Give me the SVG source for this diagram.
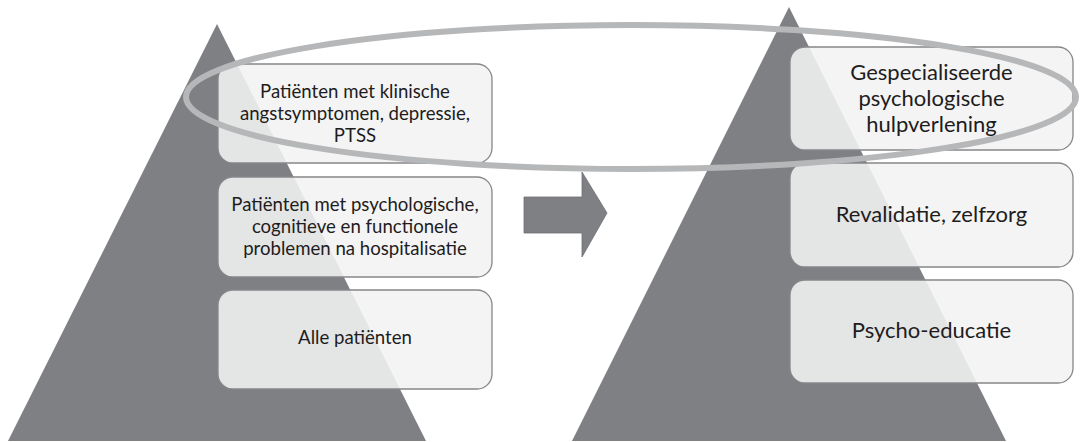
<svg xmlns="http://www.w3.org/2000/svg" width="1082" height="442" viewBox="0 0 1082 442">
  <style>
    .tri { fill: #7f8083; }
    .box { fill: #f2f3f2; fill-opacity: 0.88; stroke: #86878a; stroke-width: 1.3; }
    .t { font-family: Lato, "Open Sans", "Liberation Sans", sans-serif; fill: #1e1c1d; text-anchor: middle; }
    .s { font-size: 18.6px; }
    .l { font-size: 22px; }
  </style>
  <rect width="1082" height="442" fill="#ffffff"/>
  <g id="pyramids">
    <polygon class="tri" points="217,24 8,441 426,441"/>
    <polygon class="tri" points="789,7 572,441 1006,441"/>
  </g>
  <g id="left-top">
    <rect class="box" x="218" y="64" width="274" height="99" rx="15"/>
    <text class="t s" x="355" y="98">Patiënten met klinische</text>
    <text class="t s" x="355" y="120">angstsymptomen, depressie,</text>
    <text class="t s" x="355" y="142">PTSS</text>
  </g>
  <g id="left-mid">
    <rect class="box" x="218" y="177" width="274" height="100" rx="15"/>
    <text class="t s" x="355" y="211">Patiënten met psychologische,</text>
    <text class="t s" x="355" y="233">cognitieve en functionele</text>
    <text class="t s" x="355" y="255">problemen na hospitalisatie</text>
  </g>
  <g id="left-bottom">
    <rect class="box" x="218" y="290" width="274" height="99" rx="15"/>
    <text class="t s" x="355" y="344">Alle patiënten</text>
  </g>
  <g id="right-top">
    <rect class="box" x="790" y="47" width="283" height="103" rx="15"/>
    <text class="t l" x="931.5" y="80">Gespecialiseerde</text>
    <text class="t l" x="931.5" y="106">psychologische</text>
    <text class="t l" x="931.5" y="132">hulpverlening</text>
  </g>
  <g id="right-mid">
    <rect class="box" x="790" y="163" width="283" height="104" rx="15"/>
    <text class="t l" x="931.5" y="222">Revalidatie, zelfzorg</text>
  </g>
  <g id="right-bottom">
    <rect class="box" x="790" y="280" width="283" height="103" rx="15"/>
    <text class="t l" x="931.5" y="338">Psycho-educatie</text>
  </g>
  <g id="connectors">
    <polygon fill="#7f8083" stroke="#6f7073" stroke-width="0.8" points="524,197 582,197 582,172 607,213 582,257 582,233 524,233"/>
  </g>
  <g id="highlight">
    <ellipse cx="631" cy="97" rx="445" ry="72" fill="none" stroke="#b6b7b9" stroke-width="6"/>
  </g>
</svg>
